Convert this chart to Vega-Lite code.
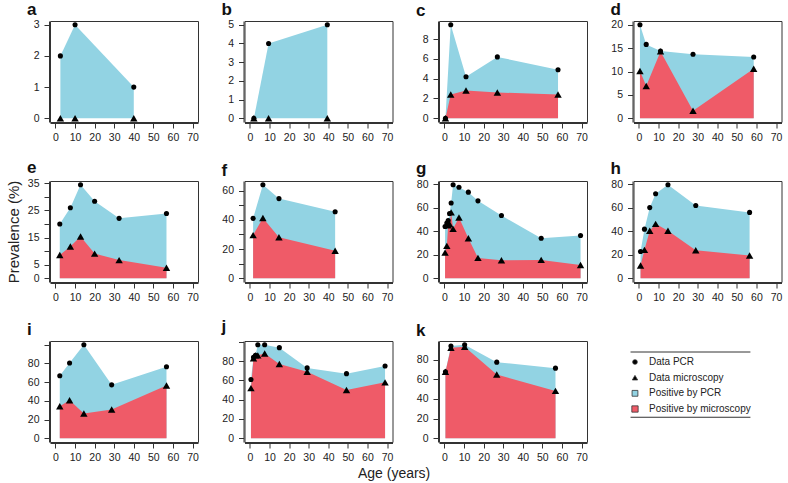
{
  "$schema": "https://vega.github.io/schema/vega-lite/v6.json",
  "background": "white",
  "padding": {"left": 5, "top": 0, "right": 3, "bottom": 4},
  "title": {"text": "Age (years)", "orient": "bottom", "anchor": "middle", "frame": "bounds", "fontSize": 14, "fontWeight": "normal", "color": "#222", "offset": 4, "dx": 0},
  "columns": 4,
  "spacing": {"row": 59, "column": 46.5},
  "bounds": "flush",
  "concat": [
    {
      "title": "a", "width": 148, "height": 101,
      "data": {"values": [
        {"age": 2.5, "test": "pcr", "value": 2}, {"age": 10, "test": "pcr", "value": 3}, {"age": 40, "test": "pcr", "value": 1},
        {"age": 2.5, "test": "micro", "value": 0}, {"age": 10, "test": "micro", "value": 0}, {"age": 40, "test": "micro", "value": 0}
      ]},
      "encoding": {
        "x": {"field": "age", "type": "quantitative", "title": null, "scale": {"domain": [-2.8, 72.8], "nice": false}, "axis": {"values": [0, 10, 20, 30, 40, 50, 60, 70]}},
        "y": {"field": "value", "type": "quantitative", "title": null, "scale": {"domain": [-0.12, 3.12], "nice": false}, "axis": {"values": [0, 1, 2, 3]}}
      },
      "layer": [
        {"transform": [{"filter": "datum.test == 'pcr'"}], "mark": {"type": "area", "color": "#92d3e3"}, "encoding": {"y2": {"datum": 0}}},
        {"transform": [{"filter": "datum.test == 'micro'"}], "mark": {"type": "area", "color": "#ef5b68"}, "encoding": {"y2": {"datum": 0}}},
        {"transform": [{"filter": "datum.test == 'pcr'"}], "mark": {"type": "point", "shape": "circle", "filled": true, "color": "black", "size": 26, "opacity": 1}},
        {"transform": [{"filter": "datum.test == 'micro'"}], "mark": {"type": "point", "shape": "triangle-up", "filled": true, "color": "black", "size": 55, "opacity": 1}},
        {"data": {"values": [{"pct": "0%"}]}, "mark": {"type": "text", "align": "right", "baseline": "middle", "dx": -4, "dy": 9, "fontSize": 10.5, "color": "#333"}, "encoding": {"x": {"datum": 72.8}, "y": {"datum": 3.12}, "text": {"field": "pct"}}}
      ]
    },
    {
      "title": "b", "width": 148, "height": 101,
      "data": {"values": [
        {"age": 2, "test": "pcr", "value": 0}, {"age": 9.5, "test": "pcr", "value": 4}, {"age": 39.5, "test": "pcr", "value": 5},
        {"age": 2, "test": "micro", "value": 0}, {"age": 9.5, "test": "micro", "value": 0}, {"age": 39.5, "test": "micro", "value": 0}
      ]},
      "encoding": {
        "x": {"field": "age", "type": "quantitative", "title": null, "scale": {"domain": [-2.8, 72.8], "nice": false}, "axis": {"values": [0, 10, 20, 30, 40, 50, 60, 70]}},
        "y": {"field": "value", "type": "quantitative", "title": null, "scale": {"domain": [-0.2, 5.2], "nice": false}, "axis": {"values": [0, 1, 2, 3, 4, 5]}}
      },
      "layer": [
        {"transform": [{"filter": "datum.test == 'pcr'"}], "mark": {"type": "area", "color": "#92d3e3"}, "encoding": {"y2": {"datum": 0}}},
        {"transform": [{"filter": "datum.test == 'micro'"}], "mark": {"type": "area", "color": "#ef5b68"}, "encoding": {"y2": {"datum": 0}}},
        {"transform": [{"filter": "datum.test == 'pcr'"}], "mark": {"type": "point", "shape": "circle", "filled": true, "color": "black", "size": 26, "opacity": 1}},
        {"transform": [{"filter": "datum.test == 'micro'"}], "mark": {"type": "point", "shape": "triangle-up", "filled": true, "color": "black", "size": 55, "opacity": 1}},
        {"data": {"values": [{"pct": "0%"}]}, "mark": {"type": "text", "align": "right", "baseline": "middle", "dx": -4, "dy": 9, "fontSize": 10.5, "color": "#333"}, "encoding": {"x": {"datum": 72.8}, "y": {"datum": 5.2}, "text": {"field": "pct"}}}
      ]
    },
    {
      "title": "c", "width": 148, "height": 101,
      "data": {"values": [
        {"age": 0.5, "test": "pcr", "value": 0}, {"age": 3.2, "test": "pcr", "value": 9.45}, {"age": 11, "test": "pcr", "value": 4.2}, {"age": 27, "test": "pcr", "value": 6.2}, {"age": 58, "test": "pcr", "value": 4.9},
        {"age": 0.5, "test": "micro", "value": 0}, {"age": 3.2, "test": "micro", "value": 2.4}, {"age": 11, "test": "micro", "value": 2.8}, {"age": 27, "test": "micro", "value": 2.6}, {"age": 58, "test": "micro", "value": 2.4}
      ]},
      "encoding": {
        "x": {"field": "age", "type": "quantitative", "title": null, "scale": {"domain": [-2.8, 72.8], "nice": false}, "axis": {"values": [0, 10, 20, 30, 40, 50, 60, 70]}},
        "y": {"field": "value", "type": "quantitative", "title": null, "scale": {"domain": [-0.38, 9.83], "nice": false}, "axis": {"values": [0, 2, 4, 6, 8]}}
      },
      "layer": [
        {"transform": [{"filter": "datum.test == 'pcr'"}], "mark": {"type": "area", "color": "#92d3e3"}, "encoding": {"y2": {"datum": 0}}},
        {"transform": [{"filter": "datum.test == 'micro'"}], "mark": {"type": "area", "color": "#ef5b68"}, "encoding": {"y2": {"datum": 0}}},
        {"transform": [{"filter": "datum.test == 'pcr'"}], "mark": {"type": "point", "shape": "circle", "filled": true, "color": "black", "size": 26, "opacity": 1}},
        {"transform": [{"filter": "datum.test == 'micro'"}], "mark": {"type": "point", "shape": "triangle-up", "filled": true, "color": "black", "size": 55, "opacity": 1}},
        {"data": {"values": [{"pct": "2.9%"}]}, "mark": {"type": "text", "align": "right", "baseline": "middle", "dx": -4, "dy": 9, "fontSize": 10.5, "color": "#333"}, "encoding": {"x": {"datum": 72.8}, "y": {"datum": 9.83}, "text": {"field": "pct"}}}
      ]
    },
    {
      "title": "d", "width": 148, "height": 101,
      "data": {"values": [
        {"age": 0.5, "test": "pcr", "value": 20}, {"age": 3.7, "test": "pcr", "value": 15.8}, {"age": 11, "test": "pcr", "value": 14.4}, {"age": 27.6, "test": "pcr", "value": 13.7}, {"age": 58.6, "test": "pcr", "value": 13.1},
        {"age": 0.5, "test": "micro", "value": 10.1}, {"age": 3.7, "test": "micro", "value": 6.9}, {"age": 11, "test": "micro", "value": 14.3}, {"age": 27.6, "test": "micro", "value": 1.6}, {"age": 58.6, "test": "micro", "value": 10.6}
      ]},
      "encoding": {
        "x": {"field": "age", "type": "quantitative", "title": null, "scale": {"domain": [-2.8, 72.8], "nice": false}, "axis": {"values": [0, 10, 20, 30, 40, 50, 60, 70]}},
        "y": {"field": "value", "type": "quantitative", "title": null, "scale": {"domain": [-0.8, 20.8], "nice": false}, "axis": {"values": [0, 5, 10, 15, 20]}}
      },
      "layer": [
        {"transform": [{"filter": "datum.test == 'pcr'"}], "mark": {"type": "area", "color": "#92d3e3"}, "encoding": {"y2": {"datum": 0}}},
        {"transform": [{"filter": "datum.test == 'micro'"}], "mark": {"type": "area", "color": "#ef5b68"}, "encoding": {"y2": {"datum": 0}}},
        {"transform": [{"filter": "datum.test == 'pcr'"}], "mark": {"type": "point", "shape": "circle", "filled": true, "color": "black", "size": 26, "opacity": 1}},
        {"transform": [{"filter": "datum.test == 'micro'"}], "mark": {"type": "point", "shape": "triangle-up", "filled": true, "color": "black", "size": 55, "opacity": 1}},
        {"data": {"values": [{"pct": "7.9%"}]}, "mark": {"type": "text", "align": "right", "baseline": "middle", "dx": -4, "dy": 9, "fontSize": 10.5, "color": "#333"}, "encoding": {"x": {"datum": 72.8}, "y": {"datum": 20.8}, "text": {"field": "pct"}}}
      ]
    },
    {
      "title": "e", "width": 148, "height": 101,
      "data": {"values": [
        {"age": 2.2, "test": "pcr", "value": 20}, {"age": 7.6, "test": "pcr", "value": 26}, {"age": 12.8, "test": "pcr", "value": 34.5}, {"age": 20, "test": "pcr", "value": 28.4}, {"age": 32.5, "test": "pcr", "value": 22.1}, {"age": 56.7, "test": "pcr", "value": 23.9},
        {"age": 2.2, "test": "micro", "value": 8.6}, {"age": 7.6, "test": "micro", "value": 11.7}, {"age": 12.8, "test": "micro", "value": 15.4}, {"age": 20, "test": "micro", "value": 9.1}, {"age": 32.5, "test": "micro", "value": 6.7}, {"age": 56.7, "test": "micro", "value": 3.9}
      ]},
      "encoding": {
        "x": {"field": "age", "type": "quantitative", "title": null, "scale": {"domain": [-2.8, 72.8], "nice": false}, "axis": {"values": [0, 10, 20, 30, 40, 50, 60, 70]}},
        "y": {"field": "value", "type": "quantitative", "title": "Prevalence (%)", "scale": {"domain": [-1.38, 35.88], "nice": false}, "axis": {"values": [0, 5, 10, 15, 20, 25, 30, 35], "labelExpr": "datum.value % 10 == 5 || datum.value == 0 ? datum.label : ''"}}
      },
      "layer": [
        {"transform": [{"filter": "datum.test == 'pcr'"}], "mark": {"type": "area", "color": "#92d3e3"}, "encoding": {"y2": {"datum": 0}}},
        {"transform": [{"filter": "datum.test == 'micro'"}], "mark": {"type": "area", "color": "#ef5b68"}, "encoding": {"y2": {"datum": 0}}},
        {"transform": [{"filter": "datum.test == 'pcr'"}], "mark": {"type": "point", "shape": "circle", "filled": true, "color": "black", "size": 26, "opacity": 1}},
        {"transform": [{"filter": "datum.test == 'micro'"}], "mark": {"type": "point", "shape": "triangle-up", "filled": true, "color": "black", "size": 55, "opacity": 1}},
        {"data": {"values": [{"pct": "8.5%"}]}, "mark": {"type": "text", "align": "right", "baseline": "middle", "dx": -4, "dy": 9, "fontSize": 10.5, "color": "#333"}, "encoding": {"x": {"datum": 72.8}, "y": {"datum": 35.88}, "text": {"field": "pct"}}}
      ]
    },
    {
      "title": "f", "width": 148, "height": 101,
      "data": {"values": [
        {"age": 1.6, "test": "pcr", "value": 41}, {"age": 6.6, "test": "pcr", "value": 64}, {"age": 14.8, "test": "pcr", "value": 54.5}, {"age": 43.5, "test": "pcr", "value": 45.5},
        {"age": 1.6, "test": "micro", "value": 29.5}, {"age": 6.6, "test": "micro", "value": 41.2}, {"age": 14.8, "test": "micro", "value": 28.1}, {"age": 43.5, "test": "micro", "value": 18.8}
      ]},
      "encoding": {
        "x": {"field": "age", "type": "quantitative", "title": null, "scale": {"domain": [-2.8, 72.8], "nice": false}, "axis": {"values": [0, 10, 20, 30, 40, 50, 60, 70]}},
        "y": {"field": "value", "type": "quantitative", "title": null, "scale": {"domain": [-2.56, 66.56], "nice": false}, "axis": {"values": [0, 10, 20, 30, 40, 50, 60], "labelExpr": "datum.value % 20 == 0 ? datum.label : ''"}}
      },
      "layer": [
        {"transform": [{"filter": "datum.test == 'pcr'"}], "mark": {"type": "area", "color": "#92d3e3"}, "encoding": {"y2": {"datum": 0}}},
        {"transform": [{"filter": "datum.test == 'micro'"}], "mark": {"type": "area", "color": "#ef5b68"}, "encoding": {"y2": {"datum": 0}}},
        {"transform": [{"filter": "datum.test == 'pcr'"}], "mark": {"type": "point", "shape": "circle", "filled": true, "color": "black", "size": 26, "opacity": 1}},
        {"transform": [{"filter": "datum.test == 'micro'"}], "mark": {"type": "point", "shape": "triangle-up", "filled": true, "color": "black", "size": 55, "opacity": 1}},
        {"data": {"values": [{"pct": "27.9%"}]}, "mark": {"type": "text", "align": "right", "baseline": "middle", "dx": -4, "dy": 9, "fontSize": 10.5, "color": "#333"}, "encoding": {"x": {"datum": 72.8}, "y": {"datum": 66.56}, "text": {"field": "pct"}}}
      ]
    },
    {
      "title": "g", "width": 148, "height": 101,
      "data": {"values": [
        {"age": 0.3, "test": "pcr", "value": 44}, {"age": 1.2, "test": "pcr", "value": 47}, {"age": 1.9, "test": "pcr", "value": 49}, {"age": 2.6, "test": "pcr", "value": 55}, {"age": 3.4, "test": "pcr", "value": 64}, {"age": 4.4, "test": "pcr", "value": 79.5}, {"age": 7.4, "test": "pcr", "value": 77.4}, {"age": 12.2, "test": "pcr", "value": 73.2}, {"age": 17.1, "test": "pcr", "value": 65.8}, {"age": 29.1, "test": "pcr", "value": 53.3}, {"age": 49.4, "test": "pcr", "value": 34}, {"age": 69.5, "test": "pcr", "value": 36.3},
        {"age": 0.3, "test": "micro", "value": 21.8}, {"age": 1.2, "test": "micro", "value": 27.5}, {"age": 1.9, "test": "micro", "value": 45}, {"age": 2.6, "test": "micro", "value": 46}, {"age": 3.4, "test": "micro", "value": 56}, {"age": 4.4, "test": "micro", "value": 42}, {"age": 7.4, "test": "micro", "value": 51.6}, {"age": 12.2, "test": "micro", "value": 34}, {"age": 17.1, "test": "micro", "value": 17.3}, {"age": 29.1, "test": "micro", "value": 15.3}, {"age": 49.4, "test": "micro", "value": 15.6}, {"age": 69.5, "test": "micro", "value": 11.3}
      ]},
      "encoding": {
        "x": {"field": "age", "type": "quantitative", "title": null, "scale": {"domain": [-2.8, 72.8], "nice": false}, "axis": {"values": [0, 10, 20, 30, 40, 50, 60, 70]}},
        "y": {"field": "value", "type": "quantitative", "title": null, "scale": {"domain": [-3.18, 82.68], "nice": false}, "axis": {"values": [0, 20, 40, 60, 80]}}
      },
      "layer": [
        {"transform": [{"filter": "datum.test == 'pcr'"}], "mark": {"type": "area", "color": "#92d3e3"}, "encoding": {"y2": {"datum": 0}}},
        {"transform": [{"filter": "datum.test == 'micro'"}], "mark": {"type": "area", "color": "#ef5b68"}, "encoding": {"y2": {"datum": 0}}},
        {"transform": [{"filter": "datum.test == 'pcr'"}], "mark": {"type": "point", "shape": "circle", "filled": true, "color": "black", "size": 26, "opacity": 1}},
        {"transform": [{"filter": "datum.test == 'micro'"}], "mark": {"type": "point", "shape": "triangle-up", "filled": true, "color": "black", "size": 55, "opacity": 1}},
        {"data": {"values": [{"pct": "28.2%"}]}, "mark": {"type": "text", "align": "right", "baseline": "middle", "dx": -4, "dy": 9, "fontSize": 10.5, "color": "#333"}, "encoding": {"x": {"datum": 72.8}, "y": {"datum": 82.68}, "text": {"field": "pct"}}}
      ]
    },
    {
      "title": "h", "width": 148, "height": 101,
      "data": {"values": [
        {"age": 0.8, "test": "pcr", "value": 22.7}, {"age": 2.8, "test": "pcr", "value": 41.7}, {"age": 5.5, "test": "pcr", "value": 60}, {"age": 8.5, "test": "pcr", "value": 71.8}, {"age": 14.8, "test": "pcr", "value": 79.4}, {"age": 29, "test": "pcr", "value": 61.8}, {"age": 56.5, "test": "pcr", "value": 55.9},
        {"age": 0.8, "test": "micro", "value": 10.8}, {"age": 2.8, "test": "micro", "value": 24.1}, {"age": 5.5, "test": "micro", "value": 40.3}, {"age": 8.5, "test": "micro", "value": 46.2}, {"age": 14.8, "test": "micro", "value": 40.3}, {"age": 29, "test": "micro", "value": 23.8}, {"age": 56.5, "test": "micro", "value": 19.3}
      ]},
      "encoding": {
        "x": {"field": "age", "type": "quantitative", "title": null, "scale": {"domain": [-2.8, 72.8], "nice": false}, "axis": {"values": [0, 10, 20, 30, 40, 50, 60, 70]}},
        "y": {"field": "value", "type": "quantitative", "title": null, "scale": {"domain": [-3.18, 82.58], "nice": false}, "axis": {"values": [0, 20, 40, 60, 80]}}
      },
      "layer": [
        {"transform": [{"filter": "datum.test == 'pcr'"}], "mark": {"type": "area", "color": "#92d3e3"}, "encoding": {"y2": {"datum": 0}}},
        {"transform": [{"filter": "datum.test == 'micro'"}], "mark": {"type": "area", "color": "#ef5b68"}, "encoding": {"y2": {"datum": 0}}},
        {"transform": [{"filter": "datum.test == 'pcr'"}], "mark": {"type": "point", "shape": "circle", "filled": true, "color": "black", "size": 26, "opacity": 1}},
        {"transform": [{"filter": "datum.test == 'micro'"}], "mark": {"type": "point", "shape": "triangle-up", "filled": true, "color": "black", "size": 55, "opacity": 1}},
        {"data": {"values": [{"pct": "29.9%"}]}, "mark": {"type": "text", "align": "right", "baseline": "middle", "dx": -4, "dy": 9, "fontSize": 10.5, "color": "#333"}, "encoding": {"x": {"datum": 72.8}, "y": {"datum": 82.58}, "text": {"field": "pct"}}}
      ]
    },
    {
      "title": "i", "width": 148, "height": 101,
      "data": {"values": [
        {"age": 2.2, "test": "pcr", "value": 66.8}, {"age": 7.2, "test": "pcr", "value": 80.4}, {"age": 14.5, "test": "pcr", "value": 100}, {"age": 28.7, "test": "pcr", "value": 57.1}, {"age": 56.7, "test": "pcr", "value": 76.4},
        {"age": 2.2, "test": "micro", "value": 34.3}, {"age": 7.2, "test": "micro", "value": 40.7}, {"age": 14.5, "test": "micro", "value": 26.4}, {"age": 28.7, "test": "micro", "value": 30.7}, {"age": 56.7, "test": "micro", "value": 56.4}
      ]},
      "encoding": {
        "x": {"field": "age", "type": "quantitative", "title": null, "scale": {"domain": [-2.8, 72.8], "nice": false}, "axis": {"values": [0, 10, 20, 30, 40, 50, 60, 70]}},
        "y": {"field": "value", "type": "quantitative", "title": null, "scale": {"domain": [-4, 104], "nice": false}, "axis": {"values": [0, 20, 40, 60, 80, 100], "labelExpr": "datum.value < 100 ? datum.label : ''"}}
      },
      "layer": [
        {"transform": [{"filter": "datum.test == 'pcr'"}], "mark": {"type": "area", "color": "#92d3e3"}, "encoding": {"y2": {"datum": 0}}},
        {"transform": [{"filter": "datum.test == 'micro'"}], "mark": {"type": "area", "color": "#ef5b68"}, "encoding": {"y2": {"datum": 0}}},
        {"transform": [{"filter": "datum.test == 'pcr'"}], "mark": {"type": "point", "shape": "circle", "filled": true, "color": "black", "size": 26, "opacity": 1}},
        {"transform": [{"filter": "datum.test == 'micro'"}], "mark": {"type": "point", "shape": "triangle-up", "filled": true, "color": "black", "size": 55, "opacity": 1}},
        {"data": {"values": [{"pct": "36.4%"}]}, "mark": {"type": "text", "align": "right", "baseline": "middle", "dx": -4, "dy": 9, "fontSize": 10.5, "color": "#333"}, "encoding": {"x": {"datum": 72.8}, "y": {"datum": 104}, "text": {"field": "pct"}}}
      ]
    },
    {
      "title": "j", "width": 148, "height": 101,
      "data": {"values": [
        {"age": 0.5, "test": "pcr", "value": 61}, {"age": 1.8, "test": "pcr", "value": 84}, {"age": 2.8, "test": "pcr", "value": 86}, {"age": 4, "test": "pcr", "value": 97}, {"age": 7.5, "test": "pcr", "value": 97}, {"age": 15, "test": "pcr", "value": 94}, {"age": 29.2, "test": "pcr", "value": 73}, {"age": 49.3, "test": "pcr", "value": 67}, {"age": 69, "test": "pcr", "value": 75},
        {"age": 0.5, "test": "micro", "value": 52}, {"age": 1.8, "test": "micro", "value": 83}, {"age": 2.8, "test": "micro", "value": 86}, {"age": 4, "test": "micro", "value": 86}, {"age": 7.5, "test": "micro", "value": 88}, {"age": 15, "test": "micro", "value": 77}, {"age": 29.2, "test": "micro", "value": 69}, {"age": 49.3, "test": "micro", "value": 50}, {"age": 69, "test": "micro", "value": 58}
      ]},
      "encoding": {
        "x": {"field": "age", "type": "quantitative", "title": null, "scale": {"domain": [-2.8, 72.8], "nice": false}, "axis": {"values": [0, 10, 20, 30, 40, 50, 60, 70]}},
        "y": {"field": "value", "type": "quantitative", "title": null, "scale": {"domain": [-3.88, 100.88], "nice": false}, "axis": {"values": [0, 20, 40, 60, 80, 100], "labelExpr": "datum.value < 100 ? datum.label : ''"}}
      },
      "layer": [
        {"transform": [{"filter": "datum.test == 'pcr'"}], "mark": {"type": "area", "color": "#92d3e3"}, "encoding": {"y2": {"datum": 0}}},
        {"transform": [{"filter": "datum.test == 'micro'"}], "mark": {"type": "area", "color": "#ef5b68"}, "encoding": {"y2": {"datum": 0}}},
        {"transform": [{"filter": "datum.test == 'pcr'"}], "mark": {"type": "point", "shape": "circle", "filled": true, "color": "black", "size": 26, "opacity": 1}},
        {"transform": [{"filter": "datum.test == 'micro'"}], "mark": {"type": "point", "shape": "triangle-up", "filled": true, "color": "black", "size": 55, "opacity": 1}},
        {"data": {"values": [{"pct": "70.5%"}]}, "mark": {"type": "text", "align": "right", "baseline": "middle", "dx": -4, "dy": 9, "fontSize": 10.5, "color": "#333"}, "encoding": {"x": {"datum": 72.8}, "y": {"datum": 100.88}, "text": {"field": "pct"}}}
      ]
    },
    {
      "title": "k", "width": 148, "height": 101,
      "data": {"values": [
        {"age": 0.5, "test": "pcr", "value": 67.5}, {"age": 3.3, "test": "pcr", "value": 93.6}, {"age": 10.3, "test": "pcr", "value": 95}, {"age": 26.7, "test": "pcr", "value": 77.3}, {"age": 56.7, "test": "pcr", "value": 71.2},
        {"age": 0.5, "test": "micro", "value": 67.5}, {"age": 3.3, "test": "micro", "value": 91.9}, {"age": 10.3, "test": "micro", "value": 92.9}, {"age": 26.7, "test": "micro", "value": 64.7}, {"age": 56.7, "test": "micro", "value": 48.1}
      ]},
      "encoding": {
        "x": {"field": "age", "type": "quantitative", "title": null, "scale": {"domain": [-2.8, 72.8], "nice": false}, "axis": {"values": [0, 10, 20, 30, 40, 50, 60, 70]}},
        "y": {"field": "value", "type": "quantitative", "title": null, "scale": {"domain": [-3.8, 98.8], "nice": false}, "axis": {"values": [0, 20, 40, 60, 80]}}
      },
      "layer": [
        {"transform": [{"filter": "datum.test == 'pcr'"}], "mark": {"type": "area", "color": "#92d3e3"}, "encoding": {"y2": {"datum": 0}}},
        {"transform": [{"filter": "datum.test == 'micro'"}], "mark": {"type": "area", "color": "#ef5b68"}, "encoding": {"y2": {"datum": 0}}},
        {"transform": [{"filter": "datum.test == 'pcr'"}], "mark": {"type": "point", "shape": "circle", "filled": true, "color": "black", "size": 26, "opacity": 1}},
        {"transform": [{"filter": "datum.test == 'micro'"}], "mark": {"type": "point", "shape": "triangle-up", "filled": true, "color": "black", "size": 55, "opacity": 1}},
        {"data": {"values": [{"pct": "73.1%"}]}, "mark": {"type": "text", "align": "right", "baseline": "middle", "dx": -4, "dy": 9, "fontSize": 10.5, "color": "#333"}, "encoding": {"x": {"datum": 72.8}, "y": {"datum": 98.8}, "text": {"field": "pct"}}}
      ]
    },
    {
      "width": 148, "height": 101,
      "view": {"stroke": null},
      "layer": [
        {"data": {"values": [{"line": "top"}]}, "mark": {"type": "rule", "color": "#333", "strokeWidth": 1},
         "encoding": {"x": {"datum": -0.02, "type": "quantitative", "scale": {"domain": [0, 1], "nice": false}, "axis": null}, "x2": {"datum": 0.79}, "y": {"datum": 0.891, "type": "quantitative", "scale": {"domain": [0, 1], "nice": false}, "axis": null}}},
        {"data": {"values": [{"line": "bottom"}]}, "mark": {"type": "rule", "color": "#333", "strokeWidth": 1},
         "encoding": {"x": {"datum": -0.02, "type": "quantitative"}, "x2": {"datum": 0.79}, "y": {"datum": 0.245, "type": "quantitative", "scale": {"domain": [0, 1], "nice": false}, "axis": null}}},
        {"data": {"values": [{"label": "Data PCR"}, {"label": "Data microscopy"}, {"label": "Positive by PCR"}, {"label": "Positive by microscopy"}]},
         "encoding": {"y": {"field": "label", "type": "nominal", "sort": null, "scale": {"type": "point", "domain": ["Data PCR", "Data microscopy", "Positive by PCR", "Positive by microscopy"], "range": [21, 68], "padding": 0}, "axis": null}},
         "layer": [
           {"mark": {"type": "point", "filled": true, "opacity": 1, "stroke": "#333", "strokeWidth": 0.8},
            "encoding": {
              "x": {"datum": 0.01, "type": "quantitative"},
              "shape": {"field": "label", "type": "nominal", "scale": {"domain": ["Data PCR", "Data microscopy", "Positive by PCR", "Positive by microscopy"], "range": ["circle", "triangle-up", "square", "square"]}, "legend": null},
              "color": {"field": "label", "type": "nominal", "scale": {"domain": ["Data PCR", "Data microscopy", "Positive by PCR", "Positive by microscopy"], "range": ["black", "black", "#92d3e3", "#ef5b68"]}, "legend": null},
              "size": {"field": "label", "type": "nominal", "scale": {"domain": ["Data PCR", "Data microscopy", "Positive by PCR", "Positive by microscopy"], "range": [22, 40, 55, 55]}, "legend": null}
            }},
           {"mark": {"type": "text", "align": "left", "baseline": "middle", "fontSize": 10, "color": "#222"},
            "encoding": {"x": {"datum": 0.105, "type": "quantitative"}, "text": {"field": "label"}}}
         ]}
      ],
      "resolve": {"scale": {"y": "independent"}}
    }
  ],
  "config": {
    "font": "Liberation Sans",
    "view": {"stroke": "#333", "strokeWidth": 1},
    "axis": {"grid": false, "domainColor": "#333", "tickColor": "#333", "labelColor": "#222", "labelFontSize": 10.5, "tickSize": 5, "labelOverlap": false, "labelFlush": false, "titleFontWeight": "normal", "titleColor": "#222"},
    "axisX": {"offset": 1, "labelPadding": 4, "labelAngle": 0},
    "axisY": {"offset": 1, "labelPadding": 5, "titleFontSize": 15, "titlePadding": 6},
    "title": {"anchor": "start", "frame": "group", "fontSize": 17, "fontWeight": "bold", "dx": -23, "offset": 1, "color": "#111"}
  }
}
